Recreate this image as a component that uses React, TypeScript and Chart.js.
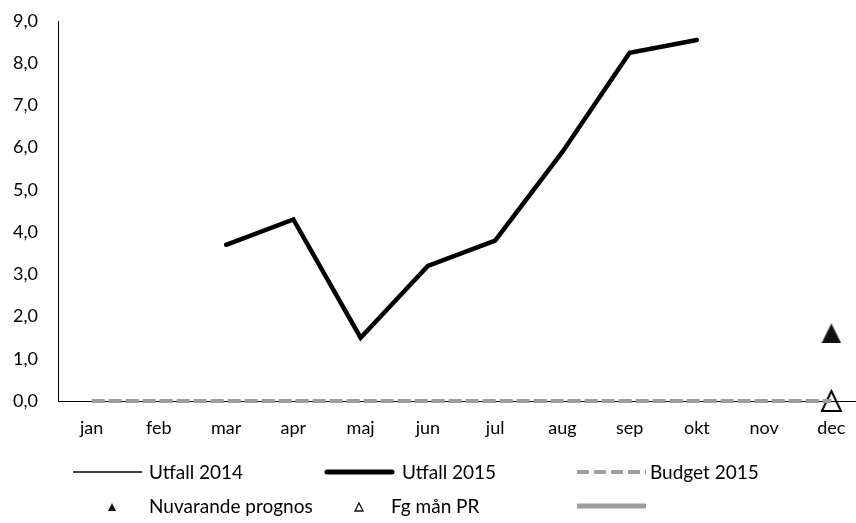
import React, { useEffect, useRef } from 'react';
import { Chart, registerables } from 'chart.js';

Chart.register(...registerables);

const categories = ['jan', 'feb', 'mar', 'apr', 'maj', 'jun', 'jul', 'aug', 'sep', 'okt', 'nov', 'dec'];
const utfall2014: (number | null)[] = [null, null, null, null, null, null, null, null, null, null, null, null];
const utfall2015: (number | null)[] = [null, null, 3.7, 4.3, 1.5, 3.2, 3.8, 5.9, 8.25, 8.55, null, null];
const budget2015: (number | null)[] = [0, 0, 0, 0, 0, 0, 0, 0, 0, 0, 0, 0];
const nuvarandePrognos: (number | null)[] = [null, null, null, null, null, null, null, null, null, null, null, 1.6];
const fgManPR: (number | null)[] = [null, null, null, null, null, null, null, null, null, null, null, 0];
const extraSeries: (number | null)[] = [null, null, null, null, null, null, null, null, null, null, null, null];
const seriesLabels = ['Utfall 2014', 'Utfall 2015', 'Budget 2015', 'Nuvarande prognos', 'Fg mån PR', ''];
const yMin = 0;
const yMax = 9;
const yStep = 1;

const CANVAS_W = 880;
const CANVAS_H = 523;
const TEXT = '#000000';
const GRAY = '#9d9d9d';
const FONT = 'Lato';

function makeTriangle(w: number, h: number, filled: boolean, lw: number): HTMLCanvasElement {
  const pad = filled ? 0 : 4;
  const c = document.createElement('canvas');
  c.width = w + pad * 2;
  c.height = h + pad * 2;
  const g = c.getContext('2d')!;
  g.beginPath();
  g.moveTo(pad + w / 2, pad);
  g.lineTo(pad + w, pad + h);
  g.lineTo(pad, pad + h);
  g.closePath();
  if (filled) {
    g.fillStyle = '#111';
    g.fill();
  } else {
    g.strokeStyle = '#000';
    g.lineWidth = lw;
    g.stroke();
  }
  return c;
}

function smallTriangle(ctx: CanvasRenderingContext2D, cx: number, cy: number, filled: boolean) {
  const w = 8, h = 8;
  ctx.beginPath();
  ctx.moveTo(cx, cy - h / 2);
  ctx.lineTo(cx + w / 2, cy + h / 2);
  ctx.lineTo(cx - w / 2, cy + h / 2);
  ctx.closePath();
  if (filled) {
    ctx.fillStyle = '#111';
    ctx.fill();
  } else {
    ctx.strokeStyle = '#111';
    ctx.lineWidth = 1.3;
    ctx.stroke();
  }
}

const legendPlugin = {
  id: 'customLegend',
  afterDraw(chart: any) {
    const ctx: CanvasRenderingContext2D = chart.ctx;
    const ds = chart.data.datasets;
    const row1 = 472;
    const row2 = 506;
    ctx.save();
    ctx.font = `19px ${FONT}`;
    ctx.textBaseline = 'alphabetic';
    const drawText = (t: string, x: number, y: number) => {
      ctx.fillStyle = TEXT;
      ctx.fillText(t, x, y + 6.5);
    };
    // Utfall 2014
    ctx.strokeStyle = '#000';
    ctx.lineWidth = 1.5;
    ctx.beginPath();
    ctx.moveTo(73, row1);
    ctx.lineTo(142, row1);
    ctx.stroke();
    drawText(ds[0].label, 149, row1);
    // Utfall 2015
    ctx.lineWidth = 5;
    ctx.lineCap = 'round';
    ctx.beginPath();
    ctx.moveTo(327, row1);
    ctx.lineTo(392, row1);
    ctx.stroke();
    ctx.lineCap = 'butt';
    drawText(ds[1].label, 402, row1);
    // Budget 2015
    ctx.strokeStyle = GRAY;
    ctx.lineWidth = 4;
    ctx.setLineDash([12, 5]);
    ctx.beginPath();
    ctx.moveTo(577, row1);
    ctx.lineTo(646, row1);
    ctx.stroke();
    ctx.setLineDash([]);
    drawText(ds[2].label, 650, row1);
    // Nuvarande prognos
    smallTriangle(ctx, 112, row2 + 1, true);
    drawText(ds[3].label, 149, row2);
    // Fg mån PR
    smallTriangle(ctx, 359, row2 + 1, false);
    drawText(ds[4].label, 391, row2);
    // extra series
    ctx.strokeStyle = GRAY;
    ctx.lineWidth = 5;
    ctx.beginPath();
    ctx.moveTo(577, row2);
    ctx.lineTo(646, row2);
    ctx.stroke();
    if (ds[5].label) drawText(ds[5].label, 650, row2);
    ctx.restore();
  },
};

export default function App() {
  const canvasRef = useRef<HTMLCanvasElement | null>(null);

  useEffect(() => {
    let chart: Chart | null = null;
    let cancelled = false;
    const make = () => {
      if (cancelled || !canvasRef.current) return;
      const filledTri = makeTriangle(20, 20, true, 0);
      const openTri = makeTriangle(19, 20, false, 2);
      chart = new Chart(canvasRef.current, {
        type: 'line',
        data: {
          labels: categories,
          datasets: [
            {
              label: seriesLabels[0],
              data: utfall2014,
              borderColor: '#000',
              borderWidth: 1.5,
              pointRadius: 0,
              tension: 0,
            },
            {
              label: seriesLabels[1],
              data: utfall2015,
              borderColor: '#000',
              borderWidth: 4.5,
              borderCapStyle: 'round',
              borderJoinStyle: 'miter',
              pointRadius: 0,
              tension: 0,
            },
            {
              label: seriesLabels[2],
              data: budget2015,
              borderColor: GRAY,
              borderWidth: 4,
              borderDash: [13, 4],
              pointRadius: 0,
              tension: 0,
              clip: false,
            },
            {
              label: seriesLabels[3],
              data: nuvarandePrognos,
              showLine: false,
              pointStyle: filledTri,
              pointRadius: 10,
              clip: false,
            },
            {
              label: seriesLabels[4],
              data: fgManPR,
              showLine: false,
              pointStyle: openTri,
              pointRadius: 10,
              clip: false,
            },
            {
              label: seriesLabels[5],
              data: extraSeries,
              borderColor: GRAY,
              borderWidth: 5,
              pointRadius: 0,
            },
          ] as any,
        },
        options: {
          responsive: false,
          animation: false,
          devicePixelRatio: 1,
          events: [],
          layout: { padding: { top: 21, right: CANVAS_W - 865, left: 0, bottom: 0 } },
          plugins: { legend: { display: false }, tooltip: { enabled: false } },
          scales: {
            x: {
              offset: true,
              grid: { display: false, drawTicks: false },
              border: { display: true, color: '#000', width: 1 },
              ticks: {
                color: TEXT,
                font: { size: 18, family: FONT },
                padding: 16,
                maxRotation: 0,
                autoSkip: false,
              },
              afterFit: (s: any) => {
                s.height = CANVAS_H - 401;
                s.paddingLeft = 0;
                s.paddingRight = 0;
              },
            },
            y: {
              min: yMin,
              max: yMax,
              grid: { display: false, drawTicks: false },
              border: { display: true, color: '#000', width: 1 },
              ticks: {
                stepSize: yStep,
                color: TEXT,
                font: { size: 18, family: FONT },
                padding: 20,
                callback: (v: any) => Number(v).toFixed(1).replace('.', ','),
              },
              afterFit: (s: any) => {
                s.width = 58;
                s.paddingTop = 0;
                s.paddingBottom = 0;
              },
            },
          },
        } as any,
        plugins: [legendPlugin],
      });
    };
    if ((document as any).fonts && (document as any).fonts.load) {
      (document as any).fonts.load(`18px ${FONT}`).then(make, make);
    } else {
      make();
    }
    return () => {
      cancelled = true;
      if (chart) chart.destroy();
    };
  }, []);

  return (
    <div
      style={{
        position: 'fixed',
        left: 0,
        top: 0,
        width: 856,
        height: 523,
        overflow: 'hidden',
        background: '#fff',
      }}
    >
      <canvas ref={canvasRef} width={CANVAS_W} height={CANVAS_H} style={{ display: 'block', width: CANVAS_W, height: CANVAS_H }} />
    </div>
  );
}
